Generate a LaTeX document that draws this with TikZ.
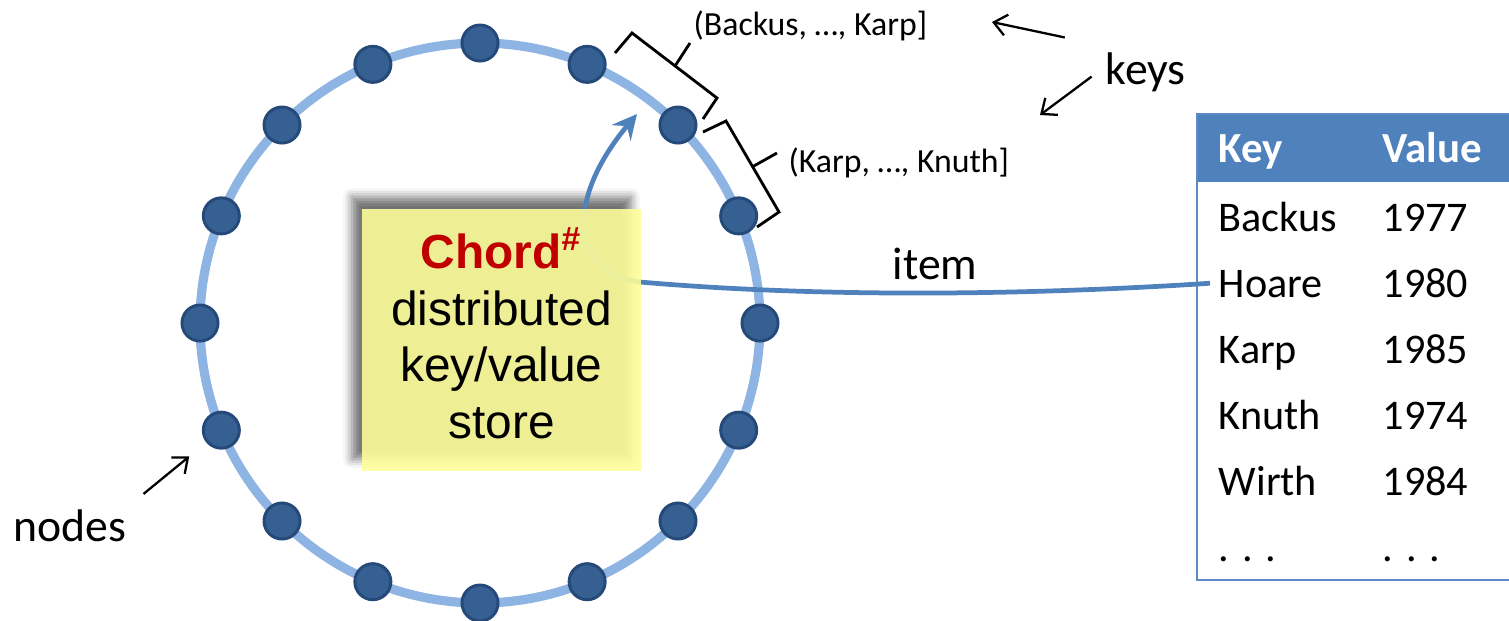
\documentclass[tikz,border=0pt]{standalone}
\usepackage{fontspec}
\setmainfont{Carlito}
\newfontfamily\notefont{Liberation Sans}
\usepackage{tikz}
\usetikzlibrary{
  arrows.meta,   % Stealth and barb tips
  calc,          % points on the ring
  shadows.blur   % soft shadow behind the note
}
\definecolor{ringblue}{RGB}{141,180,226}
\definecolor{dotblue}{RGB}{54,96,146}
\definecolor{dotedge}{RGB}{37,74,122}
\definecolor{linkblue}{RGB}{79,129,189}
\definecolor{edgeblue}{RGB}{91,138,198}
\definecolor{noteyellow}{RGB}{255,255,153}
\definecolor{chordred}{RGB}{192,0,0}

\begin{document}
\begin{tikzpicture}[x=0.01cm, y=-0.01cm, >=Stealth,
    ringdot/.style={circle, fill=dotblue, draw=dotedge, line width=0.85pt,
      minimum size=3.6mm, inner sep=0pt},
    pointer/.style={-{Straight Barb[length=3.6pt,width=6pt]}, line width=0.65pt},
    bracket/.style={line width=0.8pt},
    lbl/.style={font=\fontsize{13}{15}\selectfont, inner sep=2pt},
    rangelbl/.style={font=\fontsize{9.6}{11}\selectfont, inner sep=2pt},
    cell/.style={font=\fontsize{12}{14}\selectfont, anchor=base west, inner sep=4pt},
    note/.style={rectangle, fill=noteyellow, fill opacity=0.88, text opacity=1,
      minimum width=2.79cm, minimum height=2.62cm, inner sep=0pt, align=center,
      text depth=4pt, font=\notefont\fontsize{13.6}{16.1}\selectfont}]
  \useasboundingbox (0,0) rectangle (1509,620);

  % ring with its nodes
  \coordinate (ctr) at (480,323);
  \draw[ringblue, line width=2.6pt] (ctr) circle (280);
  \foreach \i in {0,...,15}
    \node[ringdot] (n\i) at ($(ctr)+(\i*22.5:280)$) {};

  % key/value table
  \fill[linkblue] (1197,114) rectangle (1520,182);
  \draw[edgeblue, line width=0.8pt] (1520,114) -- (1197,114) -- (1197,580) -- (1520,580);
  \node[cell, text=white, font=\fontsize{12.2}{14}\selectfont\bfseries] (hkey) at (1204,162) {Key};
  \node[cell, text=white, font=\fontsize{12.2}{14}\selectfont\bfseries] (hval) at (1368,162) {Value};
  \foreach \k/\v [count=\i] in {Backus/1977, Hoare/1980, Karp/1985, Knuth/1974, Wirth/1984, {. . .}/{. . .}} {
    \node[cell] (key\i) at (1204,{165+66*\i}) {\k};
    \node[cell] (val\i) at (1368,{165+66*\i}) {\v};
  }

  % shadow of the note
  \path[blur shadow={shadow xshift=-1mm, shadow yshift=1.2mm,
      shadow blur radius=0.9mm, shadow opacity=55}]
    (362,209) rectangle (641,471);

  % item link from the table into the ring
  \coordinate (tip) at (637,114);
  \draw[linkblue, line width=1.35pt, shorten <=-0.6mm,
      -{Stealth[length=7pt,width=7pt,inset=2.5pt]}]
    (key2.west) .. controls (1000,297) and (800,296) .. (640,282)
                .. controls (570,272) and (565,200) .. (tip);
  \node[lbl, anchor=base] (itemlbl) at (935,279) {item};

  % the note
  \node[note] (store) at (501.5,340)
    {\textcolor{chordred}{\textbf{Chord\textsuperscript{\#}}}\\distributed\\key/value\\store};

  % key ranges
  \draw[bracket] (615,53) -- (632,33) -- (717,98) -- (703,119);
  \draw[bracket] (675,66) -- (690,43);
  \draw[bracket] (703,132) -- (726,121) -- (779,212) -- (757,227);
  \draw[bracket] (752,167) -- (777,153);
  \node[rangelbl, anchor=base west] (rangeA) at (686,35) {(Backus, …, Karp]};
  \node[rangelbl, anchor=base west] (rangeB) at (781,172) {(Karp, …, Knuth]};

  % labels and pointers
  \node[lbl, anchor=base west] (keys) at (1098,84) {keys};
  \node[lbl, anchor=base west] (nodeslbl) at (6,541) {nodes};
  \coordinate (tipA) at (992,22);
  \coordinate (tipB) at (1040,115);
  \draw[pointer, shorten <=3.4mm] (keys.north west) -- (tipA);
  \draw[pointer, shorten <=0.8mm] (keys.west) -- (tipB);
  \draw[pointer, shorten <=1.2mm, shorten >=2.2mm] (nodeslbl.north east) -- (n7);
\end{tikzpicture}
\end{document}
